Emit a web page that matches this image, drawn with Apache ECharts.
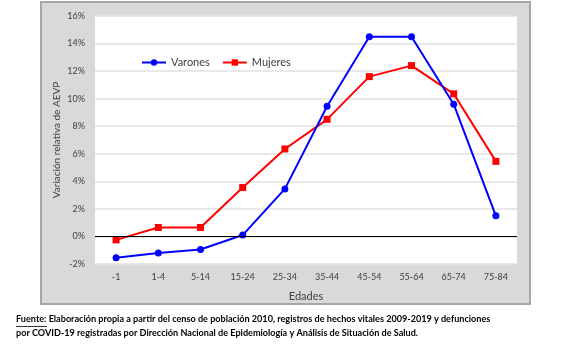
<!DOCTYPE html>
<html><head><meta charset="utf-8">
<script src="https://cdn.jsdelivr.net/npm/echarts@6/dist/echarts.min.js"></script>
<style>html,body{margin:0;padding:0;background:#fff}#c{width:579px;height:360px}</style>
</head><body><div id="c"></div>
<script>
const categories = ['-1','1-4','5-14','15-24','25-34','35-44','45-54','55-64','65-74','75-84'];
const varones = [-1.55,-1.2,-0.95,0.1,3.45,9.45,14.5,14.5,9.6,1.5];
const mujeres = [-0.25,0.65,0.65,3.55,6.35,8.5,11.6,12.4,10.35,5.45];
const yTicks = {min:-2,max:16,interval:2};
const FONT = 'Lato';
const chart = echarts.init(document.getElementById('c'));
chart.setOption({
  animation:false,
  textStyle:{fontFamily:FONT},
  graphic:[
    {type:'rect',z:-10,shape:{x:41,y:2,width:489,height:302},style:{fill:'#d9d9d9',stroke:'#a6a6a6',lineWidth:2}},
    {type:'text',left:16,top:315,style:{text:'Fuente: Elaboración propia a partir del censo de población 2010, registros de hechos vitales 2009-2019 y defunciones',font:'bold 9.1px '+FONT,fill:'#000'}},
    {type:'text',left:16,top:329,style:{text:'por COVID-19 registradas por Dirección Nacional de Epidemiología y Análisis de Situación de Salud.',font:'bold 9.1px '+FONT,fill:'#000'}},
    {type:'line',shape:{x1:16,y1:326.5,x2:47,y2:326.5},style:{stroke:'#000',lineWidth:0.8}}
  ],
  legend:{left:136,top:52,itemWidth:24,itemHeight:8,itemGap:12,
    textStyle:{fontSize:11,color:'#404040',fontFamily:FONT},
    data:['Varones','Mujeres']},
  grid:{left:95,right:62,top:16,bottom:96,show:true,backgroundColor:'#fff',borderWidth:0},
  xAxis:{type:'category',data:categories,boundaryGap:true,
    axisLine:{show:false,onZero:false},axisTick:{show:false},
    axisLabel:{color:'#404040',fontSize:9,margin:9,interval:0},
    name:'Edades',nameLocation:'middle',nameGap:27,
    nameTextStyle:{fontSize:11,color:'#404040'}},
  yAxis:{type:'value',min:yTicks.min,max:yTicks.max,interval:yTicks.interval,
    axisLine:{show:false},axisTick:{show:false},
    axisLabel:{formatter:'{value}%',color:'#404040',fontSize:9,margin:10},
    splitLine:{lineStyle:{color:'#e2e2e2',width:1.5}},
    name:'Variación relativa de AEVP',nameLocation:'middle',nameGap:33,nameRotate:90,
    nameMoveOverlap:false,
    nameTextStyle:{fontSize:10,color:'#404040'}},
  series:[
    {name:'Varones',type:'line',data:varones,color:'#0000ff',symbol:'circle',symbolSize:7,
      lineStyle:{width:2},itemStyle:{color:'#0000ff'},
      markLine:{silent:true,symbol:'none',label:{show:false},lineStyle:{color:'#000',width:1,type:'solid'},data:[{yAxis:0}]},
      z:3},
    {name:'Mujeres',type:'line',data:mujeres,color:'#ff0000',symbol:'rect',symbolSize:7,
      lineStyle:{width:2},itemStyle:{color:'#ff0000'},z:2}
  ]
});
</script></body></html>
